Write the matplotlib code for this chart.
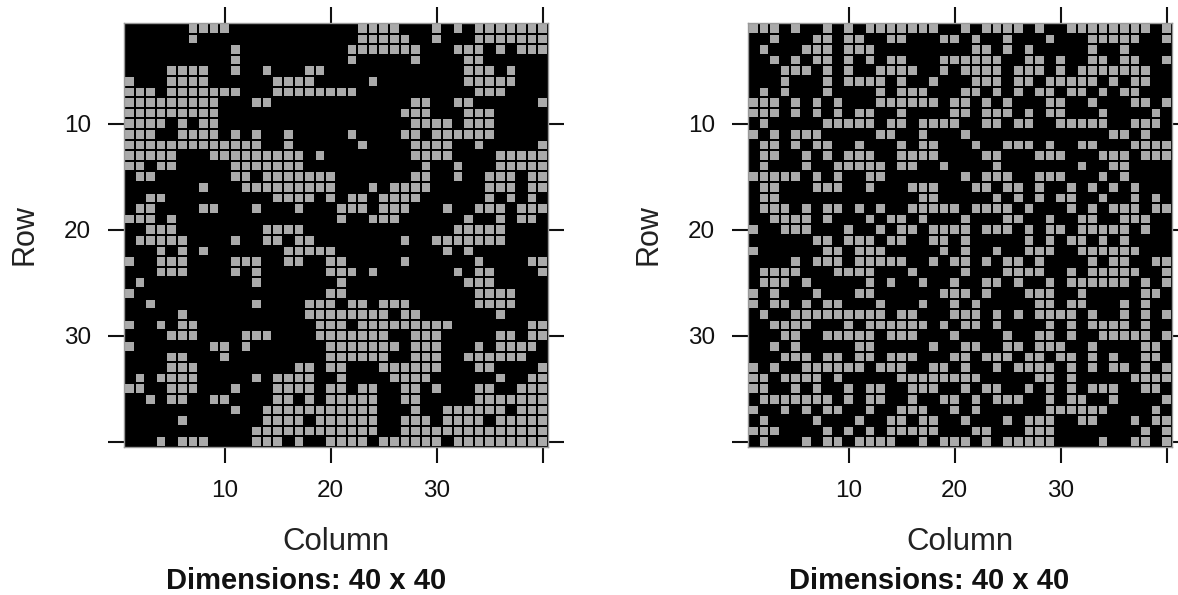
import matplotlib
matplotlib.use("Agg")
import numpy as np
import matplotlib.pyplot as plt
from matplotlib.colors import ListedColormap

# columnas encendidas (gris) por fila, filas 1 a 40
left_rows = [
    [7, 8, 9, 10, 23, 24, 25, 26, 30, 32, 34, 35, 36, 37, 38, 39, 40],
    [7, 23, 24, 25, 26, 27, 30, 34, 35, 36, 37, 38, 39, 40],
    [11, 22, 23, 24, 25, 26, 27, 28, 32, 33, 34, 36, 38, 39, 40],
    [11, 22, 28, 33, 34],
    [5, 6, 7, 8, 11, 14, 18, 19, 33, 34, 35, 37],
    [1, 5, 6, 7, 8, 15, 16, 17, 18, 24, 33, 34, 35, 36, 37],
    [1, 2, 3, 5, 6, 7, 8, 9, 10, 11, 15, 16, 17, 18, 19, 20, 21, 22, 34, 35, 36],
    [1, 2, 3, 4, 5, 6, 7, 8, 9, 13, 14, 28, 29, 32, 33, 40],
    [1, 2, 3, 4, 5, 6, 7, 8, 9, 27, 28, 29, 33, 34, 35],
    [1, 2, 3, 4, 6, 8, 9, 28, 29, 30, 31, 33, 34, 35],
    [1, 2, 3, 6, 7, 8, 9, 11, 13, 16, 22, 27, 28, 30, 31, 32, 33, 34, 35],
    [1, 2, 3, 4, 5, 6, 7, 8, 9, 10, 11, 12, 13, 16, 23, 28, 29, 30, 31, 34, 40],
    [1, 2, 3, 4, 5, 9, 10, 11, 12, 13, 14, 15, 16, 17, 19, 28, 29, 30, 31, 36, 37, 38, 39, 40],
    [1, 2, 4, 5, 11, 12, 13, 14, 15, 16, 17, 29, 32, 36, 37, 38, 39, 40],
    [2, 3, 11, 12, 14, 15, 16, 17, 18, 19, 20, 28, 29, 32, 35, 36, 37, 39, 40],
    [8, 12, 13, 14, 15, 16, 17, 18, 19, 20, 24, 26, 27, 28, 29, 35, 36, 37, 39, 40],
    [3, 4, 15, 16, 17, 18, 20, 22, 23, 25, 26, 27, 28, 35, 37, 39],
    [2, 3, 8, 9, 13, 17, 21, 22, 23, 25, 26, 27, 31, 34, 35, 36, 38, 39, 40],
    [1, 2, 3, 5, 21, 24, 25, 26, 33, 36, 38, 39],
    [3, 4, 5, 14, 15, 16, 17, 32, 33, 34, 35, 36],
    [2, 3, 4, 5, 6, 11, 14, 15, 17, 18, 27, 30, 31, 32, 33, 34, 35, 36],
    [4, 6, 8, 16, 17, 18, 19, 20, 31, 33],
    [1, 4, 5, 6, 11, 12, 13, 16, 17, 20, 21, 27, 34, 39, 40],
    [4, 5, 6, 11, 13, 20, 21, 22, 24, 32, 34, 35, 40],
    [2, 13, 21, 33, 34, 35],
    [1, 20, 21, 34, 35, 36, 37],
    [3, 13, 18, 19, 20, 22, 23, 25, 26, 27, 34, 35, 36, 37],
    [6, 18, 19, 20, 21, 22, 23, 24, 25, 27, 28, 36],
    [1, 4, 6, 7, 19, 20, 21, 23, 24, 25, 26, 27, 28, 29, 30, 31, 39, 40],
    [5, 6, 7, 12, 13, 14, 19, 20, 21, 22, 23, 24, 25, 28, 29, 30, 36, 37, 39, 40],
    [1, 9, 10, 12, 20, 21, 22, 23, 24, 25, 26, 28, 29, 30, 34, 36, 37, 38, 39],
    [5, 6, 10, 20, 21, 22, 23, 24, 25, 28, 29, 30, 33, 34, 35, 36, 37, 38],
    [5, 6, 7, 17, 18, 20, 21, 25, 26, 27, 28, 29, 30, 34, 35, 40],
    [2, 4, 5, 6, 7, 13, 15, 16, 17, 18, 21, 26, 27, 28, 29, 36, 39, 40],
    [1, 2, 5, 6, 7, 11, 15, 16, 17, 18, 20, 21, 23, 24, 27, 28, 30, 34, 35, 38, 39, 40],
    [3, 5, 6, 9, 10, 15, 16, 18, 20, 21, 22, 23, 24, 27, 28, 34, 35, 36, 37, 38, 39, 40],
    [11, 14, 15, 16, 17, 18, 19, 20, 21, 22, 23, 24, 28, 31, 32, 33, 34, 35, 36, 38, 39, 40],
    [6, 14, 15, 16, 17, 19, 20, 21, 22, 23, 24, 27, 28, 29, 31, 32, 33, 34, 36, 37, 38, 39, 40],
    [13, 14, 15, 16, 17, 18, 19, 20, 21, 22, 23, 24, 27, 28, 29, 30, 31, 32, 33, 34, 35, 36, 37, 38, 39, 40],
    [4, 6, 7, 8, 13, 14, 15, 17, 20, 21, 22, 23, 25, 26, 27, 28, 29, 30, 32, 33, 34, 35, 36, 37, 38, 39, 40],
]

right_rows = [
    [1, 2, 3, 5, 8, 10, 12, 13, 14, 15, 16, 17, 18, 21, 23, 24, 25, 26, 28, 31, 32, 33, 34, 35, 36, 37, 38, 40],
    [3, 7, 8, 10, 11, 14, 15, 19, 20, 22, 25, 29, 33, 34, 35, 36, 37, 40],
    [2, 6, 7, 8, 10, 11, 12, 22, 23, 25, 27, 33, 36],
    [3, 5, 7, 8, 10, 12, 14, 15, 19, 20, 21, 22, 23, 24, 27, 28, 30, 33, 34, 36, 37, 40],
    [4, 5, 6, 8, 10, 13, 14, 15, 16, 19, 21, 22, 23, 24, 26, 27, 28, 30, 32, 33, 34, 35, 36, 37, 38],
    [4, 8, 10, 11, 12, 13, 15, 18, 22, 23, 24, 26, 27, 29, 30, 31, 32, 33, 35, 37, 38],
    [2, 4, 8, 13, 15, 16, 17, 21, 22, 24, 26, 28, 29, 31, 32, 34, 36, 37],
    [1, 2, 3, 5, 7, 9, 13, 14, 15, 16, 17, 18, 20, 21, 23, 25, 29, 30, 33, 37, 38, 40],
    [1, 2, 3, 5, 7, 9, 11, 12, 15, 20, 21, 23, 24, 25, 27, 29, 30, 34, 39],
    [2, 8, 9, 10, 11, 12, 14, 15, 17, 18, 19, 20, 23, 24, 26, 27, 30, 31, 32, 33, 34, 37, 38, 39],
    [1, 3, 5, 6, 7, 13, 14, 17, 21, 35, 36, 38],
    [2, 3, 5, 7, 8, 11, 15, 17, 18, 22, 25, 26, 27, 29, 32, 33, 37, 38, 39, 40],
    [2, 3, 6, 8, 10, 11, 12, 15, 16, 17, 18, 23, 24, 28, 29, 30, 34, 35, 36, 38, 39, 40],
    [2, 6, 9, 10, 11, 12, 13, 15, 16, 19, 24, 32, 35, 36],
    [1, 2, 3, 4, 5, 7, 9, 12, 13, 21, 23, 24, 25, 28, 29, 30, 34, 36],
    [2, 3, 7, 8, 9, 12, 16, 17, 18, 22, 23, 25, 26, 28, 31, 33, 35, 37],
    [2, 3, 17, 18, 24, 26, 28, 30, 31, 34, 37, 39],
    [2, 3, 4, 6, 8, 9, 11, 13, 16, 17, 18, 19, 20, 22, 23, 24, 25, 27, 31, 33, 35, 36, 37, 39, 40],
    [3, 4, 5, 6, 8, 12, 14, 15, 17, 21, 25, 26, 29, 32, 33, 36, 37, 38],
    [1, 4, 5, 6, 10, 13, 15, 16, 18, 19, 20, 21, 23, 24, 25, 27, 29, 30, 32, 33, 34, 35, 36, 38],
    [7, 8, 10, 11, 12, 14, 15, 18, 19, 21, 27, 29, 31, 32, 34, 36],
    [1, 8, 9, 11, 12, 13, 19, 21, 24, 27, 28, 29, 32, 33, 34, 35, 36, 37],
    [5, 7, 8, 9, 11, 12, 13, 14, 15, 18, 20, 21, 23, 25, 26, 28, 33, 35, 36, 39, 40],
    [2, 3, 4, 5, 9, 10, 11, 12, 16, 21, 25, 26, 27, 28, 31, 33, 34, 35, 36, 37, 40],
    [2, 3, 4, 6, 12, 14, 17, 20, 23, 24, 26, 29, 31, 32, 33, 34, 35, 36, 38, 40],
    [1, 3, 7, 11, 12, 19, 20, 21, 23, 27, 28, 29, 32, 38, 39],
    [1, 3, 4, 6, 8, 9, 13, 17, 20, 22, 28, 29, 31, 32, 36, 38],
    [2, 5, 6, 7, 8, 9, 10, 11, 12, 13, 15, 16, 20, 21, 22, 24, 26, 28, 29, 30, 31, 33, 36, 38, 40],
    [3, 4, 5, 6, 10, 12, 13, 14, 15, 16, 17, 19, 21, 22, 24, 29, 31, 33, 34, 35, 36, 38],
    [4, 5, 8, 9, 10, 11, 12, 14, 15, 16, 20, 25, 28, 29, 31, 34, 35, 36, 37, 38, 40],
    [3, 5, 11, 12, 18, 21, 22, 25, 26, 28, 29, 30, 33, 38, 39],
    [4, 5, 6, 8, 9, 11, 12, 14, 15, 16, 20, 21, 23, 24, 25, 27, 28, 30, 31, 33, 35, 38, 39],
    [1, 3, 6, 7, 8, 9, 10, 11, 13, 14, 15, 18, 19, 21, 24, 26, 27, 28, 29, 31, 33, 35, 36, 38, 40],
    [1, 2, 4, 5, 6, 7, 9, 15, 16, 17, 18, 19, 20, 21, 22, 28, 29, 31, 37, 38, 39, 40],
    [1, 2, 5, 7, 10, 12, 13, 16, 17, 18, 21, 23, 24, 27, 29, 31, 33, 34, 35, 38, 39],
    [2, 3, 4, 5, 6, 7, 8, 10, 12, 13, 16, 19, 20, 22, 24, 25, 26, 29, 31, 32, 35, 40],
    [1, 4, 6, 8, 9, 12, 15, 16, 17, 20, 22, 29, 30, 31, 32, 33, 34, 39],
    [2, 7, 11, 14, 15, 17, 18, 21, 25, 27, 28, 29, 32, 33, 37, 39, 40],
    [1, 2, 3, 8, 10, 12, 14, 15, 16, 17, 18, 22, 23, 27, 28, 29, 38, 40],
    [2, 6, 8, 9, 11, 12, 13, 14, 17, 19, 20, 21, 23, 25, 26, 27, 28, 29, 34, 37, 38, 40],
]

ticks = [10, 20, 30, 40]
tick_labels = ["10", "20", "30", ""]

plt.rcParams["font.family"] = ["Liberation Sans", "DejaVu Sans"]


def panel(rect, rows, title_x):
    ax = fig.add_axes(rect)
    grid = np.zeros((40, 40))
    for i, cols in enumerate(rows):
        for c in cols:
            grid[i, c - 1] = 1
    xs = np.arange(0.5, 41)
    ax.pcolormesh(xs, xs, grid, cmap=ListedColormap(["black", "#aaaaaa"]),
                  edgecolors="black", linewidth=1.35, vmin=0, vmax=1)
    ax.set_xlim(0.5, 40.5)
    ax.set_ylim(40.5, 0.5)
    ax.set_xticks(ticks, tick_labels, fontsize=17.5)
    ax.set_yticks(ticks, tick_labels, fontsize=17.5)
    ax.tick_params(length=11.5, width=1.5, top=True, right=True, pad=12, colors="#111111")
    for s in ax.spines.values():
        s.set_color("#999999")
        s.set_linewidth(1)
    ax.set_xlabel("Column", fontsize=22.4, labelpad=18, color="#222222")
    ax.set_ylabel("Row", fontsize=22, labelpad=18, color="#222222")
    fig.text(title_x / 1178, 1 - 581 / 595, "Dimensions: 40 x 40", fontsize=21,
             fontweight="bold", ha="center", va="center", color="#111111")
    return ax


fig = plt.figure(figsize=(11.78, 5.95), dpi=100)
w, h = 424 / 1178, 424 / 595
bottom = 1 - 447 / 595
panel([124 / 1178, bottom, w, h], left_rows, 306)
panel([748 / 1178, bottom, w, h], right_rows, 929)
fig.savefig("out.png", dpi=100)
